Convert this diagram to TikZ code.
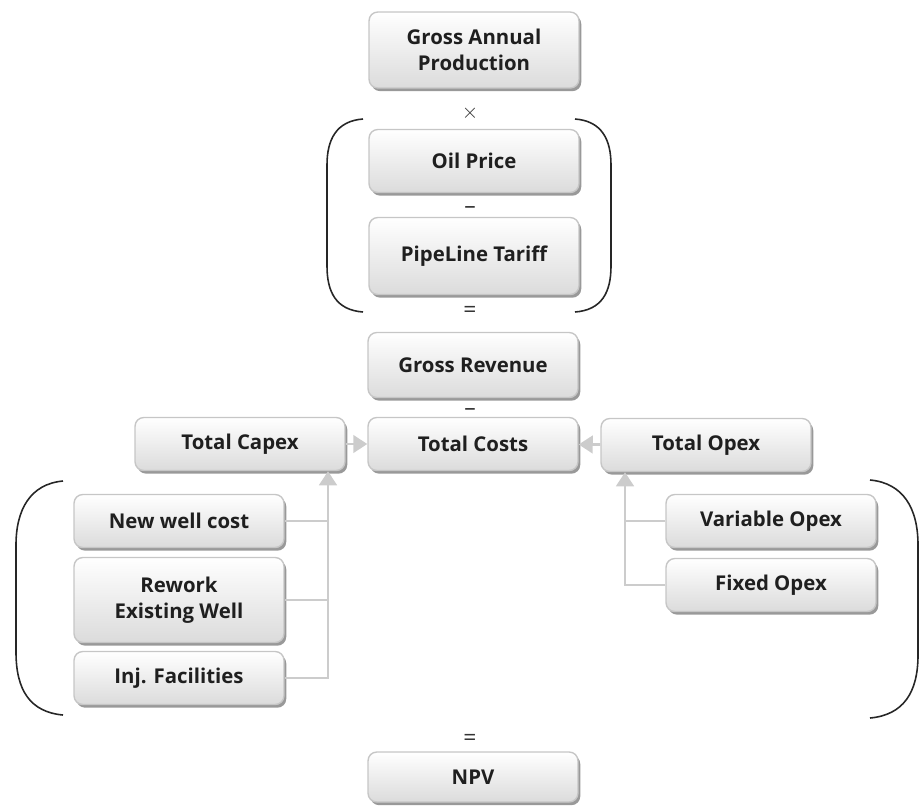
\documentclass[tikz,border=0pt]{standalone}
\usepackage{fontspec}
\setmainfont{Open Sans}
\usepackage{tikz}
\usetikzlibrary{arrows.meta, positioning, calc, shadows}

\begin{document}
\begin{tikzpicture}[
    x=0.02cm, y=-0.02cm,
    box/.style={rectangle, rounded corners=5pt, draw=gray!45, line width=0.8pt,
        top color=white, bottom color=gray!28, minimum width=4.2cm, minimum height=1.06cm,
        align=center, font=\bfseries\fontsize{11.6}{15}\selectfont, text=black!88,
        drop shadow={shadow xshift=1.3pt, shadow yshift=-1.8pt, fill=gray!80, opacity=1}},
    op/.style={font=\fontsize{13}{13}\selectfont, text=black!80, inner sep=0pt},
    paren/.style={draw=black!85, line width=0.9pt},
    link/.style={draw=gray!40, line width=1.6pt},
    arrow/.style={link, -{Triangle[width=10pt, length=8pt]}}
]
    \useasboundingbox (0,0) rectangle (922,805);

    % Revenue part
    \node[box, minimum height=1.52cm] (gap) at (474,50) {Gross Annual\\Production};
    \node[op] (times) at (470,113) {$\times$};
    \node[box, minimum height=1.26cm] (oil) at (474,161) {Oil Price};
    \node[op] (minusA) at (470,210) {--};
    \node[box, minimum height=1.54cm] (pipe) at (474,256) {PipeLine Tariff};
    \node[op] (equalA) at (470,312) {=};
    \node[box, minimum height=1.3cm] (revenue) at (473,365) {Gross Revenue};
    \node[op] (minusB) at (470,412) {--};

    % Costs
    \node[box] (capex) at (240,444) {Total Capex};
    \node[box] (costs) at (473,444) {Total Costs};
    \node[box] (opex) at (706,445) {Total Opex};

    \node[box] (newwell) at (179,521) {New well cost};
    \node[box, minimum height=1.7cm] (rework) at (179,600) {Rework\\Existing Well};
    \node[box] (inj) at (179,678) {Inj. Facilities};

    \node[box] (varopex) at (771,521) {Variable Opex};
    \node[box] (fixopex) at (771,585) {Fixed Opex};

    \node[op] (equalB) at (470,740) {=};
    \node[box, minimum height=1.0cm] (npv) at (473,777) {NPV};

    % Brackets
    \draw[paren] (363,119) .. controls (336,121) and (327,140) .. (327,165) -- (327,266)
        .. controls (327,292) and (336,310) .. (363,312);
    \draw[paren] (575,119) .. controls (602,121) and (611,140) .. (611,165) -- (611,266)
        .. controls (611,292) and (602,310) .. (575,312);
    \draw[paren] (63,481) .. controls (30,484) and (16,510) .. (16,545) -- (16,652)
        .. controls (16,690) and (30,712) .. (63,715);
    \draw[paren] (870,480) .. controls (903,483) and (918,508) .. (918,545) -- (918,655)
        .. controls (918,693) and (903,715) .. (870,718);

    % Junction points
    \coordinate (capexjoin) at (328,685);
    \coordinate (opexjoin) at (625,587);

    % Arrows
    \draw[arrow] (capex) -- (costs);
    \draw[arrow] (opex) -- (costs);
    \draw[arrow] (inj.east) -| (capexjoin |- capex.south);
    \draw[link] (newwell.east) -- (newwell.east -| capexjoin);
    \draw[link] (rework.east) -- (rework.east -| capexjoin);
    \draw[arrow] (fixopex.west) -| (opexjoin |- opex.south);
    \draw[link] (varopex.west) -- (varopex.west -| opexjoin);
\end{tikzpicture}
\end{document}
